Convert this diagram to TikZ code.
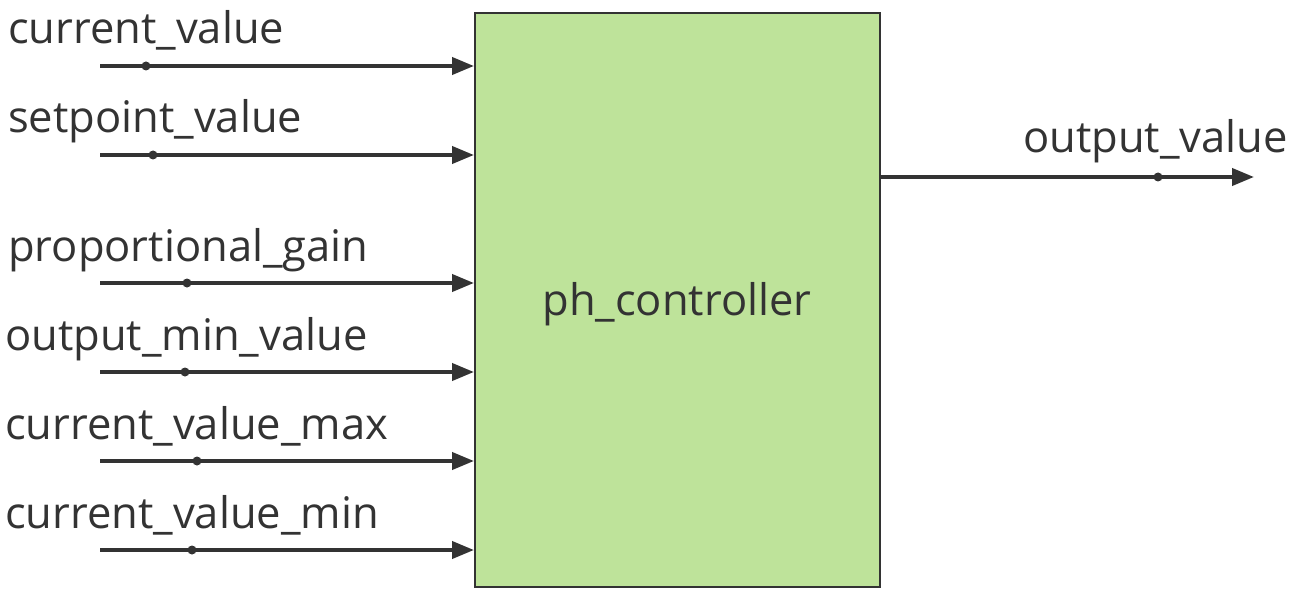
\documentclass[tikz,border=0pt]{standalone}
\usepackage{fontspec}
\setmainfont{Open Sans}
\usetikzlibrary{arrows.meta}
\definecolor{boxfill}{RGB}{190,227,154}
\definecolor{ink}{RGB}{51,51,51}
\tikzset{
  blockbox/.style={draw=ink, line width=2pt, fill=boxfill},
  sigline/.style={draw=ink, line width=4pt, -{Triangle[length=22pt,width=17pt]}},
  sigdot/.style={circle, fill=ink, inner sep=0pt, minimum size=9pt},
  lbl/.style={anchor=base west, inner sep=0pt, text=ink, font=\fontsize{43.5}{48}\selectfont},
}
\begin{document}
\begin{tikzpicture}[x=1pt,y=-1pt]
\useasboundingbox (0,0) rectangle (1292,596);
\node[blockbox, anchor=north west, minimum width=405pt, minimum height=574pt, inner sep=0pt] (ctl) at (474,12) {};
\node[lbl, anchor=base] (ctltxt) at (677,315) {ph\_controller};
% inputs
\foreach \nm/\yy/\dx/\lx/\txt in {a/66/146/8/current\_value, b/155/153/8/setpoint\_value, c/283/187/8/proportional\_gain, d/372/185/5/output\_min\_value, e/461/197/5/current\_value\_max, f/550/192/5/current\_value\_min}{
  \coordinate (s\nm) at (100,\yy);
  \coordinate (t\nm) at (474,\yy);
  \draw[sigline] (s\nm) -- (t\nm);
  \node[sigdot] (d\nm) at (\dx,\yy) {};
  \node[lbl] (l\nm) at (\lx,\yy-22) {\txt};
}
% output
\coordinate (so) at (879,177);
\coordinate (to) at (1254,177);
\draw[sigline] (so) -- (to);
\node[sigdot] (dout) at (1158,177) {};
\node[lbl, anchor=base east] (lout) at (1288,153) {output\_value};
\end{tikzpicture}
\end{document}
